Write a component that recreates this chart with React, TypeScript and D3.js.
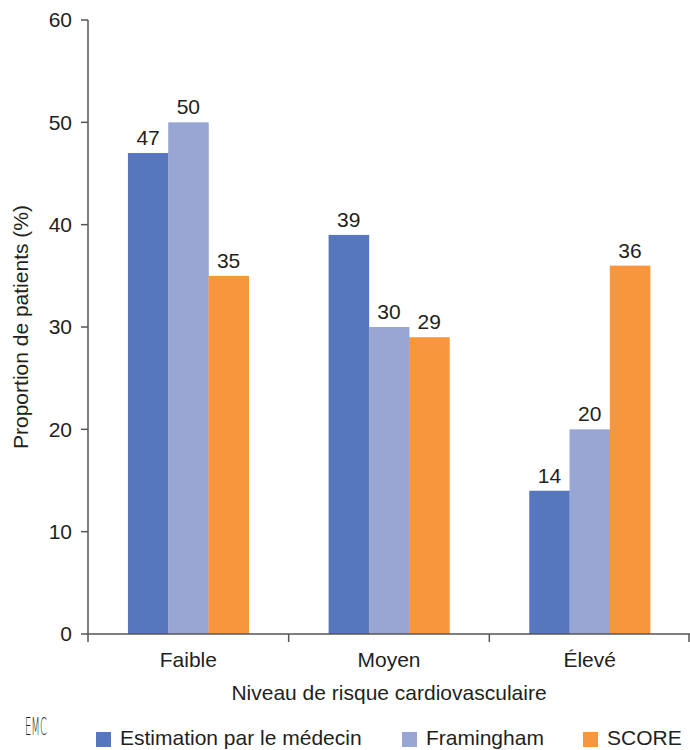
import React from "react";
import * as d3 from "d3";

const categories = ["Faible", "Moyen", "Élevé"];
const seriesNames = ["Estimation par le médecin", "Framingham", "SCORE"];
const estimation = [47, 39, 14];
const framingham = [50, 30, 20];
const score = [35, 29, 36];
const yTicks = [0, 10, 20, 30, 40, 50, 60];
const colors = ["#5677BD", "#99A6D4", "#F7963C"];

const W = 690;
const H = 750;
const M = { left: 88, right: 690, top: 20, bottom: 634 };
const FONT = "'Liberation Sans', Arial, Helvetica, sans-serif";
const TXT = "#231F20";
const AX = "#555555";

export default function App() {
  const series = [estimation, framingham, score];
  const x = d3.scaleBand<string>().domain(categories).range([M.left, M.right]).padding(0);
  const y = d3.scaleLinear().domain([0, 60]).range([M.bottom, M.top]);
  const groupW = x.bandwidth() * 0.602;
  const xs = d3
    .scaleBand<number>()
    .domain(d3.range(series.length))
    .range([0, groupW])
    .padding(0);

  const legendX = [96, 402, 583];

  return (
    <svg
      width={W}
      height={H}
      style={{ position: "absolute", left: 0, top: 0, background: "#fff" }}
      fontFamily={FONT}
    >
      {categories.map((c, ci) => {
        const g0 = (x(c) as number) + (x.bandwidth() - groupW) / 2;
        return (
          <g key={c}>
            {series.map((s, si) => {
              const bx = g0 + (xs(si) as number);
              const bw = xs.bandwidth();
              return (
                <g key={si}>
                  <rect
                    x={bx}
                    y={y(s[ci])}
                    width={bw + 0.3}
                    height={y(0) - y(s[ci])}
                    fill={colors[si]}
                  />
                  <text
                    x={bx + bw / 2}
                    y={y(s[ci]) - 8}
                    textAnchor="middle"
                    fontSize={21}
                    fill={TXT}
                  >
                    {s[ci]}
                  </text>
                </g>
              );
            })}
          </g>
        );
      })}

      <line x1={M.left} x2={M.left} y1={y(60)} y2={y(0)} stroke={AX} strokeWidth={1.5} />
      {yTicks.map((t) => (
        <g key={t}>
          <line x1={M.left - 7} x2={M.left} y1={y(t)} y2={y(t)} stroke={AX} strokeWidth={1.5} />
          <text
            x={M.left - 16}
            y={y(t)}
            dy="0.35em"
            textAnchor="end"
            fontSize={21}
            fill={TXT}
          >
            {t}
          </text>
        </g>
      ))}

      <line x1={M.left} x2={M.right} y1={y(0)} y2={y(0)} stroke={AX} strokeWidth={1.5} />
      {[...categories.map((c) => x(c) as number), M.right - 1].map((px, i) => (
        <line key={i} x1={px} x2={px} y1={y(0)} y2={y(0) + 8} stroke={AX} strokeWidth={1.5} />
      ))}
      {categories.map((c) => (
        <text
          key={c}
          x={(x(c) as number) + x.bandwidth() / 2}
          y={667}
          textAnchor="middle"
          fontSize={21}
          fill={TXT}
        >
          {c}
        </text>
      ))}

      <text x={389} y={700} textAnchor="middle" fontSize={21} fill={TXT}>
        Niveau de risque cardiovasculaire
      </text>
      <text
        transform={`translate(28, ${(y(0) + y(60)) / 2}) rotate(-90)`}
        textAnchor="middle"
        fontSize={21}
        fill={TXT}
      >
        Proportion de patients (%)
      </text>

      <text
        transform="translate(25, 735) scale(0.4, 1)"
        fontSize={25}
        fill={TXT}
        fontFamily="'DejaVu Sans', sans-serif"
        fontWeight={300}
      >
        EMC
      </text>

      {seriesNames.map((n, i) => (
        <g key={n}>
          <rect x={legendX[i]} y={732} width={15} height={15} fill={colors[i]} />
          <text x={legendX[i] + 24} y={745} fontSize={21} fill={TXT}>
            {n}
          </text>
        </g>
      ))}
    </svg>
  );
}
